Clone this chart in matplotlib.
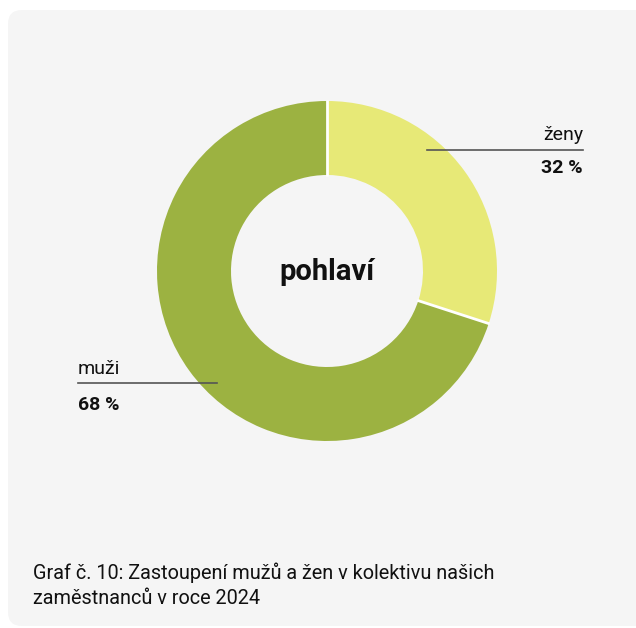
import numpy as np
import matplotlib.pyplot as plt
from matplotlib.patches import FancyBboxPatch

# data
kategorie = ["ženy", "muži"]
podil = [30.0, 70.0]          # visual share of the ring
popisky_proc = ["32 %", "68 %"]
barvy = ["#E7E977", "#9CB241"]
nadpis_stredu = "pohlaví"
popis_grafu = ["Graf č. 10: Zastoupení mužů a žen v kolektivu našich",
               "zaměstnanců v roce 2024"]

plt.rcParams['font.family'] = ['Roboto', 'DejaVu Sans']

W, H = 636, 628
fig = plt.figure(figsize=(W / 100, H / 100), dpi=100, facecolor="white")
ax = fig.add_axes([0, 0, 1, 1])

# panel s kulatymi rohy
panel = FancyBboxPatch((8, 2), 660, H - 10 - 2, boxstyle="round,pad=0,rounding_size=14",
                       facecolor="#F5F5F5", edgecolor="none", zorder=0)
ax.add_patch(panel)

stred = (327, H - 271)
R, sirka = 170, 74
ax.pie(podil, colors=barvy, startangle=90, counterclock=False, center=stred, radius=R,
       wedgeprops=dict(width=sirka, edgecolor="none", linewidth=0), frame=True)

# bile mezery mezi vysecemi
hranice = 90 - 360 * np.cumsum([0] + podil[:-1]) / sum(podil)
for uhel in hranice:
    a = np.deg2rad(uhel)
    ax.plot([stred[0] + (R - sirka - 1) * np.cos(a), stred[0] + (R + 1) * np.cos(a)],
            [stred[1] + (R - sirka - 1) * np.sin(a), stred[1] + (R + 1) * np.sin(a)],
            color="white", lw=2, solid_capstyle="butt", zorder=4)

ax.set_xlim(0, W)
ax.set_ylim(0, H)
ax.set_aspect("equal")
ax.axis("off")

ax.text(stred[0], stred[1] - 1, nadpis_stredu, ha="center", va="center",
        fontsize=21, fontweight="bold", color="#111111")

# popisky zeny
ax.plot([427, 583], [H - 150, H - 150], color="#555555", lw=1.2, zorder=5)
ax.text(583, H - 140, kategorie[0], ha="right", va="baseline", fontsize=14, color="#111111")
ax.text(583, H - 173, popisky_proc[0], ha="right", va="baseline", fontsize=14,
        fontweight="bold", color="#111111")

# popisky muzi
ax.plot([78, 217], [H - 383, H - 383], color="#555555", lw=1.2, zorder=5)
ax.text(78, H - 374, kategorie[1], ha="left", va="baseline", fontsize=14, color="#111111")
ax.text(78, H - 410, popisky_proc[1], ha="left", va="baseline", fontsize=14,
        fontweight="bold", color="#111111")

ax.text(33, H - 579, popis_grafu[0], ha="left", va="baseline", fontsize=14.3, color="#111111")
ax.text(33, H - 604, popis_grafu[1], ha="left", va="baseline", fontsize=14.3, color="#111111")

fig.savefig("out.png", dpi=100, facecolor="white")
